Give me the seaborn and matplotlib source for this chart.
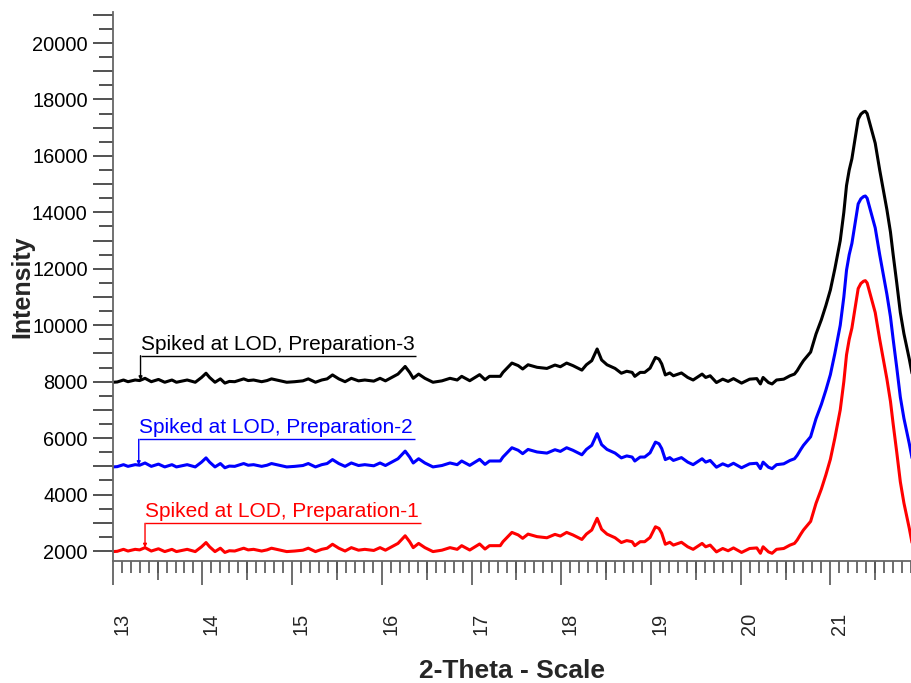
import numpy as np
import pandas as pd
import matplotlib
matplotlib.use("Agg")
import matplotlib.pyplot as plt
import seaborn as sns
from matplotlib.ticker import MultipleLocator, FixedLocator, FuncFormatter
from matplotlib.transforms import ScaledTranslation

# ---------------- data ----------------
two_theta = [13.00, 13.05, 13.12, 13.17, 13.25, 13.30, 13.36, 13.43, 13.51, 13.58,
             13.66, 13.71, 13.77, 13.83, 13.92, 13.99, 14.04, 14.08, 14.14, 14.20,
             14.25, 14.30, 14.36, 14.46, 14.51, 14.57, 14.66, 14.72, 14.77, 14.87,
             14.94, 15.03, 15.12, 15.18, 15.26, 15.33, 15.39, 15.45, 15.52, 15.59,
             15.66, 15.74, 15.81, 15.91, 15.98, 16.04, 16.11, 16.18, 16.26, 16.31,
             16.35, 16.41, 16.48, 16.57, 16.67, 16.76, 16.84, 16.89, 16.98, 17.09,
             17.15, 17.20, 17.32, 17.35, 17.45, 17.52, 17.57, 17.63, 17.73, 17.84,
             17.93, 17.99, 18.06, 18.13, 18.23, 18.28, 18.34, 18.40, 18.45, 18.51,
             18.60, 18.67, 18.73, 18.79, 18.82, 18.88, 18.93, 18.99, 19.05, 19.09,
             19.12, 19.16, 19.21, 19.25, 19.34, 19.41, 19.47, 19.57, 19.61, 19.66,
             19.73, 19.80, 19.86, 19.92, 20.01, 20.10, 20.18, 20.22, 20.25, 20.31,
             20.35, 20.40, 20.48, 20.55, 20.60, 20.63, 20.67, 20.70, 20.74, 20.78,
             20.84, 20.90, 20.95, 21.00, 21.05, 21.11, 21.15, 21.18, 21.21, 21.24,
             21.28, 21.31, 21.34, 21.37, 21.39, 21.41, 21.44, 21.47, 21.50, 21.55,
             21.59, 21.63, 21.67, 21.70, 21.74, 21.78, 21.82, 21.85, 21.88, 21.91]

prep1_counts = [1980, 1990, 2060, 2000, 2060, 2040, 2120, 2000, 2080, 1980,
                2060, 1980, 2020, 2060, 1980, 2150, 2300, 2150, 1980, 2100,
                1950, 2010, 2000, 2100, 2040, 2060, 2000, 2040, 2100, 2030,
                1980, 2000, 2030, 2100, 1980, 2060, 2100, 2240, 2100, 2000,
                2120, 2030, 2060, 2020, 2120, 2030, 2150, 2270, 2540, 2330,
                2120, 2270, 2120, 1980, 2030, 2120, 2060, 2190, 2035, 2250,
                2070, 2190, 2190, 2330, 2660, 2570, 2450, 2600, 2510, 2470,
                2590, 2530, 2660, 2570, 2410, 2600, 2745, 3160, 2770, 2600,
                2470, 2300, 2370, 2330, 2190, 2330, 2330, 2480, 2860, 2800,
                2630, 2240, 2310, 2210, 2310, 2150, 2060, 2270, 2150, 2210,
                1970, 2090, 2010, 2110, 1950, 2090, 2110, 1920, 2150, 1970,
                1920, 2060, 2090, 2210, 2270, 2390, 2600, 2745, 2900, 3050,
                3690, 4200, 4700, 5250, 6000, 7000, 8000, 8950, 9500, 9900,
                10700, 11300, 11480, 11560, 11580, 11500, 11150, 10800, 10450, 9500,
                8800, 8100, 7300, 6500, 5500, 4450, 3700, 3250, 2800, 2300]

prep2_counts = [4980, 4990, 5060, 5000, 5060, 5040, 5120, 5000, 5080, 4980,
                5060, 4980, 5020, 5060, 4980, 5150, 5300, 5150, 4980, 5100,
                4950, 5010, 5000, 5100, 5040, 5060, 5000, 5040, 5100, 5030,
                4980, 5000, 5030, 5100, 4980, 5060, 5100, 5240, 5100, 5000,
                5120, 5030, 5060, 5020, 5120, 5030, 5150, 5270, 5540, 5330,
                5120, 5270, 5120, 4980, 5030, 5120, 5060, 5190, 5035, 5250,
                5070, 5190, 5190, 5330, 5660, 5570, 5450, 5600, 5510, 5470,
                5590, 5530, 5660, 5570, 5410, 5600, 5745, 6160, 5770, 5600,
                5470, 5300, 5370, 5330, 5190, 5330, 5330, 5480, 5860, 5800,
                5630, 5240, 5310, 5210, 5310, 5150, 5060, 5270, 5150, 5210,
                4970, 5090, 5010, 5110, 4950, 5090, 5110, 4920, 5150, 4970,
                4920, 5060, 5090, 5210, 5270, 5390, 5600, 5745, 5900, 6050,
                6690, 7200, 7700, 8250, 9000, 10000, 11000, 11950, 12500, 12900,
                13700, 14300, 14480, 14560, 14580, 14500, 14150, 13800, 13450, 12500,
                11800, 11100, 10300, 9500, 8500, 7450, 6700, 6250, 5800, 5300]

prep3_counts = [7980, 7990, 8060, 8000, 8060, 8040, 8120, 8000, 8080, 7980,
                8060, 7980, 8020, 8060, 7980, 8150, 8300, 8150, 7980, 8100,
                7950, 8010, 8000, 8100, 8040, 8060, 8000, 8040, 8100, 8030,
                7980, 8000, 8030, 8100, 7980, 8060, 8100, 8240, 8100, 8000,
                8120, 8030, 8060, 8020, 8120, 8030, 8150, 8270, 8540, 8330,
                8120, 8270, 8120, 7980, 8030, 8120, 8060, 8190, 8035, 8250,
                8070, 8190, 8190, 8330, 8660, 8570, 8450, 8600, 8510, 8470,
                8590, 8530, 8660, 8570, 8410, 8600, 8745, 9160, 8770, 8600,
                8470, 8300, 8370, 8330, 8190, 8330, 8330, 8480, 8860, 8800,
                8630, 8240, 8310, 8210, 8310, 8150, 8060, 8270, 8150, 8210,
                7970, 8090, 8010, 8110, 7950, 8090, 8110, 7920, 8150, 7970,
                7920, 8060, 8090, 8210, 8270, 8390, 8600, 8745, 8900, 9050,
                9690, 10200, 10700, 11250, 12000, 13000, 14000, 14950, 15500, 15900,
                16700, 17300, 17480, 17560, 17580, 17500, 17150, 16800, 16450, 15500,
                14800, 14100, 13300, 12500, 11500, 10450, 9700, 9250, 8800, 8300]

series_labels = ["Spiked at LOD, Preparation-1",
                 "Spiked at LOD, Preparation-2",
                 "Spiked at LOD, Preparation-3"]
series_colors = ["#ff0000", "#0000ff", "#000000"]

x_tick_values = [13, 14, 15, 16, 17, 18, 19, 20, 21]
y_label_values = [2000, 4000, 6000, 8000, 10000, 12000, 14000, 16000, 18000, 20000]

# label placement (layout only)
label_x = [13.36, 13.29, 13.31]
leader_y = [2982, 5959, 8921]
leader_end_x = [16.44, 16.37, 16.38]

# ---------------- figure ----------------
sns.set_style("ticks")
plt.rcParams["font.family"] = ["Liberation Sans", "DejaVu Sans"]

fig = plt.figure(figsize=(9.12, 6.83), dpi=100)
ax = fig.add_axes([0.1236, 0.1786, 0.8764, 0.8038])

all_counts = [prep1_counts, prep2_counts, prep3_counts]
frames = []
for lab, cts in zip(series_labels, all_counts):
    frames.append(pd.DataFrame({"two_theta": two_theta, "counts": cts, "series": lab}))
df = pd.concat(frames, ignore_index=True)

sns.lineplot(data=df, x="two_theta", y="counts", hue="series",
             palette=dict(zip(series_labels, series_colors)),
             estimator=None, sort=False, linewidth=2.2, legend=False, ax=ax)

ax.set_xlim(13, 21.91)
ax.set_ylim(1646, 21099)

# spines
for s in ["top", "right"]:
    ax.spines[s].set_visible(False)
for s in ["left", "bottom"]:
    ax.spines[s].set_color("#666666")
    ax.spines[s].set_linewidth(1.3)

# y ticks
ax.yaxis.set_major_locator(MultipleLocator(1000))
ax.yaxis.set_minor_locator(MultipleLocator(500))
ax.yaxis.set_major_formatter(FuncFormatter(
    lambda v, p: f"{int(round(v))}" if int(round(v)) in y_label_values else ""))
ax.tick_params(axis="y", which="major", direction="out", length=14.4, width=1.2,
               color="#333333", labelsize=14.4, pad=3.6, labelcolor="black")
ax.tick_params(axis="y", which="minor", direction="out", length=10, width=1.2,
               color="#333333")

# x ticks
ax.xaxis.set_major_locator(FixedLocator(x_tick_values))
ax.xaxis.set_minor_locator(MultipleLocator(0.1))
ax.tick_params(axis="x", which="major", direction="out", length=17.3, width=1.2,
               color="#555555", labelsize=14.4, pad=20, labelrotation=90)
ax.tick_params(axis="x", which="minor", direction="out", length=8.6, width=1.2,
               color="#555555")

sec = ax.secondary_xaxis("bottom")
sec.xaxis.set_major_locator(FixedLocator([v + 0.5 for v in x_tick_values]))
sec.tick_params(axis="x", direction="out", length=13.7, width=1.2, color="#555555",
                labelbottom=False)
sec.spines["bottom"].set_visible(False)

shift = ScaledTranslation(9 / 100, 0, fig.dpi_scale_trans)
for t in ax.xaxis.get_major_ticks():
    t.label1.set_transform(t.label1.get_transform() + shift)

ax.set_xlabel("2-Theta - Scale", fontsize=19, fontweight="bold")
ax.set_ylabel("Intensity", fontsize=18, fontweight="bold")
ax.xaxis.set_label_coords(0.5, -0.179)
ax.yaxis.set_label_coords(-0.0978, 0.5)

# series labels with leader lines
for lab, col, lx, ly, lend, cts in zip(series_labels, series_colors, label_x,
                                       leader_y, leader_end_x, all_counts):
    target = float(np.interp(lx, two_theta, cts))
    ax.annotate("", xy=(lx, target), xytext=(lx, ly),
                arrowprops=dict(arrowstyle="-|>", color=col, lw=1.0,
                                mutation_scale=5, shrinkA=0, shrinkB=0))
    ax.hlines(ly, lx, lend, color=col, lw=1.0)
    ax.annotate(lab, xy=(lx, ly), xytext=(0, 1.5), textcoords="offset points",
                color=col, fontsize=15, ha="left", va="bottom")

fig.savefig("out.png", dpi=100)
